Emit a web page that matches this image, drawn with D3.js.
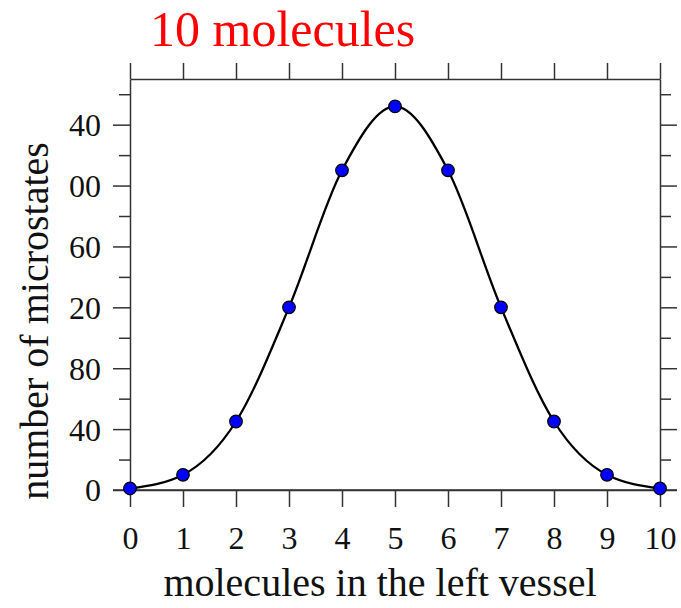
<!DOCTYPE html>
<html lang="en">
<head>
    <meta charset="UTF-8">
    <title>10 molecules</title>
    <script src="https://cdnjs.cloudflare.com/ajax/libs/d3/7.8.5/d3.min.js"></script>
    <style>
        body { margin: 0; background: #fff; }
        text { font-family: "Liberation Serif", "Times New Roman", serif; }
    </style>
</head>
<body>
    <svg width="681" height="608"></svg>
    <script>
        "use strict";

        // molecules in the left vessel and the number of microstates C(10, k)
        const molecules = [0, 1, 2, 3, 4, 5, 6, 7, 8, 9, 10];
        const microstates = [1, 10, 45, 120, 210, 252, 210, 120, 45, 10, 1];
        const yMajor = [0, 40, 80, 120, 160, 200, 240];
        const yMinor = [20, 60, 100, 140, 180, 220, 260];
        // tick labels as printed (hundreds digit cut off in the original)
        const yTickLabels = ["0", "40", "80", "20", "60", "00", "40"];

        const svg = d3.select("svg");
        const plotLeft = 130, plotRight = 660, plotTop = 79, plotBottom = 490;

        const x = d3.scaleLinear().domain([0, 10]).range([plotLeft, plotRight]);
        const y = d3.scaleLinear().domain([0, 270]).range([plotBottom, plotTop]);

        const axisColor = "#333";

        // bottom axis
        const gx = svg.append("g")
            .attr("transform", `translate(0,${plotBottom})`)
            .call(d3.axisBottom(x).tickValues(molecules).tickSize(17).tickSizeOuter(0).tickPadding(19));
        // top axis (ticks only)
        const gxt = svg.append("g")
            .attr("transform", `translate(0,${plotTop})`)
            .call(d3.axisTop(x).tickValues(molecules).tickSize(16).tickSizeOuter(0).tickFormat(""));
        // left axis
        const gy = svg.append("g")
            .attr("transform", `translate(${plotLeft},0)`)
            .call(d3.axisLeft(y).tickValues(yMajor).tickSize(17).tickSizeOuter(0).tickPadding(12)
                .tickFormat((d, i) => yTickLabels[i]));
        const gym = svg.append("g")
            .attr("transform", `translate(${plotLeft},0)`)
            .call(d3.axisLeft(y).tickValues(yMinor).tickSize(11).tickSizeOuter(0).tickFormat(""));
        // right axis
        const gyr = svg.append("g")
            .attr("transform", `translate(${plotRight},0)`)
            .call(d3.axisRight(y).tickValues(yMajor).tickSize(17).tickSizeOuter(0).tickFormat(""));
        const gyrm = svg.append("g")
            .attr("transform", `translate(${plotRight},0)`)
            .call(d3.axisRight(y).tickValues(yMinor).tickSize(11).tickSizeOuter(0).tickFormat(""));

        [gx, gxt, gy, gym, gyr, gyrm].forEach(g => {
            g.selectAll("path.domain").attr("stroke", axisColor).attr("stroke-width", 1.5);
            g.selectAll(".tick line").attr("stroke", axisColor).attr("stroke-width", 1.5);
        });
        gym.select("path.domain").remove();
        gyrm.select("path.domain").remove();

        // bottom line runs out past the box like the reference
        svg.append("line")
            .attr("x1", plotLeft - 17).attr("x2", plotRight + 17)
            .attr("y1", plotBottom).attr("y2", plotBottom)
            .attr("stroke", axisColor).attr("stroke-width", 1.5);

        gx.selectAll(".tick text").attr("font-size", 32).attr("fill", "#111")
            .attr("font-family", "Liberation Serif, serif");
        gy.selectAll(".tick text").attr("font-size", 32).attr("fill", "#111")
            .attr("font-family", "Liberation Serif, serif").attr("dy", "0.34em");

        // curve through the points
        const line = d3.line()
            .x((d, i) => x(molecules[i]))
            .y(d => y(d))
            .curve(d3.curveMonotoneX);

        svg.append("path")
            .datum(microstates)
            .attr("d", line)
            .attr("fill", "none")
            .attr("stroke", "#000")
            .attr("stroke-width", 2.3);

        svg.append("g")
            .selectAll("circle")
            .data(microstates)
            .enter()
            .append("circle")
            .attr("cx", (d, i) => x(molecules[i]))
            .attr("cy", d => y(d))
            .attr("r", 6.3)
            .attr("fill", "#0000ff")
            .attr("stroke", "#000")
            .attr("stroke-width", 1.2);

        // titles
        svg.append("text")
            .attr("x", 150).attr("y", 46)
            .attr("font-size", 50)
            .attr("fill", "#ff0000")
            .text("10 molecules");

        svg.append("text")
            .attr("x", 380).attr("y", 596)
            .attr("text-anchor", "middle")
            .attr("font-size", 40)
            .attr("fill", "#111")
            .text("molecules in the left vessel");

        svg.append("text")
            .attr("transform", "translate(48,321) rotate(-90)")
            .attr("text-anchor", "middle")
            .attr("font-size", 40)
            .attr("fill", "#111")
            .text("number of microstates");
    </script>
</body>
</html>
